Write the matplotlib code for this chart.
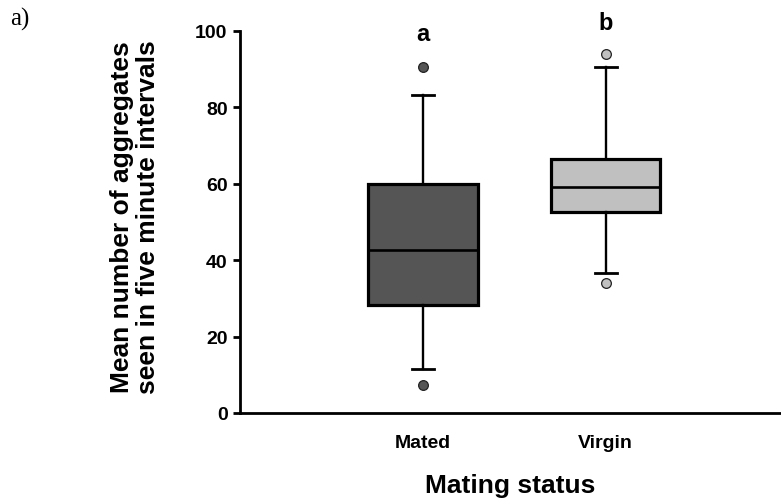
import matplotlib
matplotlib.use("Agg")
import matplotlib.pyplot as plt

plt.rcParams['font.family'] = ['Liberation Sans', 'DejaVu Sans']

# Box statistics
groups = ["Mated", "Virgin"]
medians = [42.6, 59.1]
q1 = [28.3, 52.6]
q3 = [59.8, 66.5]
whis_low = [11.5, 36.5]
whis_high = [83.2, 90.6]
outliers = [[90.4, 7.3], [93.9, 33.9]]
letters = ["a", "b"]
letter_y = [96.3, 99.0]
fill_colors = ["#555555", "#c0c0c0"]

stats = []
for i, g in enumerate(groups):
    stats.append({"label": g, "med": medians[i], "q1": q1[i], "q3": q3[i],
                  "whislo": whis_low[i], "whishi": whis_high[i],
                  "fliers": outliers[i]})

fig = plt.figure(figsize=(7.81, 5.02), dpi=100)
ax = fig.add_axes([0.3073, 0.1753, 0.6927, 0.7616])

positions = [1, 2]
bp = ax.bxp(stats, positions=positions, widths=0.6, patch_artist=True,
            boxprops=dict(linewidth=2.3, edgecolor="black"),
            medianprops=dict(color="black", linewidth=1.9),
            whiskerprops=dict(color="black", linewidth=1.7),
            capprops=dict(color="black", linewidth=2.0),
            capwidths=0.12,
            flierprops=dict(marker="o", markersize=7, markeredgecolor="#222222",
                            markeredgewidth=0.9))

for patch, c in zip(bp["boxes"], fill_colors):
    patch.set_facecolor(c)
for fl, c in zip(bp["fliers"], fill_colors):
    fl.set_markerfacecolor(c)

for p, t, y in zip(positions, letters, letter_y):
    ax.text(p, y, t, ha="center", va="bottom", fontsize=17, fontweight="bold")

ax.set_xlim(0, 2.96)
ax.set_ylim(0, 100)
ax.set_yticks([0, 20, 40, 60, 80, 100])
ax.set_xticks(positions)
ax.set_xticklabels(groups)

ax.spines["top"].set_visible(False)
ax.spines["right"].set_visible(False)
ax.spines["left"].set_linewidth(2)
ax.spines["bottom"].set_linewidth(2)

ax.tick_params(axis="y", length=5, width=2, pad=4, labelsize=14)
ax.tick_params(axis="x", length=0, pad=15, labelsize=14)
for lab in ax.get_xticklabels() + ax.get_yticklabels():
    lab.set_fontweight("bold")

ax.set_ylabel("Mean number of aggregates\nseen in five minute intervals",
              fontsize=19, fontweight="bold", linespacing=1.1)
ax.yaxis.set_label_coords(-0.148, 0.515)
ax.set_xlabel("Mating status", fontsize=19, fontweight="bold", labelpad=16)

fig.text(0.013, 0.985, "a)", family=["Liberation Serif", "DejaVu Serif"],
         fontsize=18, ha="left", va="top")

fig.savefig("out.png", dpi=100)
